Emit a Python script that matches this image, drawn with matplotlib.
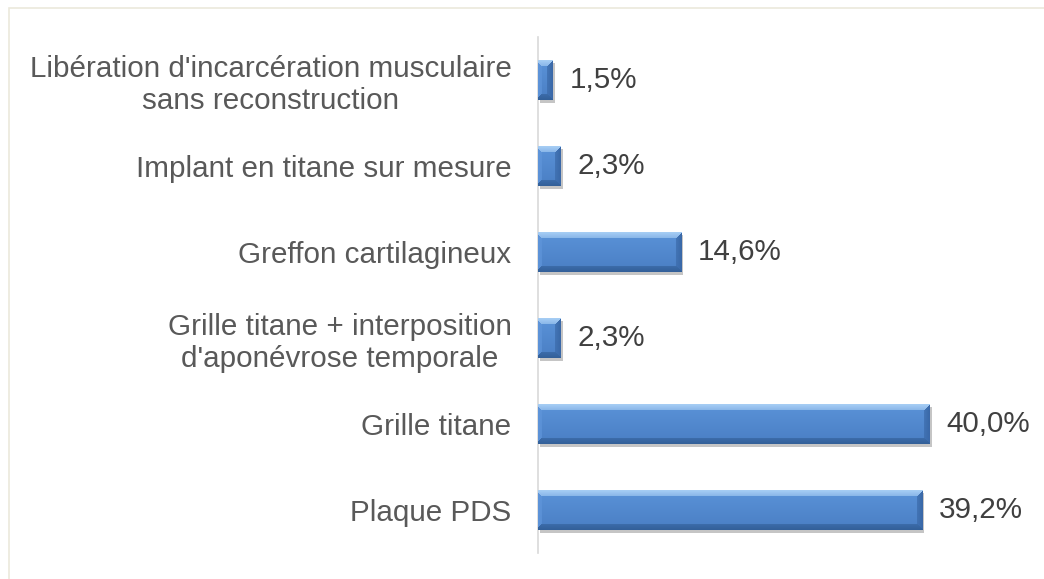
import numpy as np
import matplotlib
matplotlib.use("Agg")
import matplotlib.pyplot as plt
import matplotlib.patheffects as pe
from matplotlib.patches import Rectangle
from matplotlib.colors import to_rgb

categories = [
    "Libération d'incarcération musculaire\nsans reconstruction",
    "Implant en titane sur mesure",
    "Greffon cartilagineux",
    "Grille titane + interposition\nd'aponévrose temporale",
    "Grille titane",
    "Plaque PDS",
]
values = [1.5, 2.3, 14.6, 2.3, 40.0, 39.2]

W, H = 1044, 579
XMAX = 45
BAR_H = 0.465
FS = 21.3


def bevel_image(w_px, h_px, b=6):
    # rough Excel-like bevel: light top, dark bottom/right
    top = np.array(to_rgb("#a6cdf4"))
    left = np.array(to_rgb("#5f95da"))
    right = np.array(to_rgb("#3a69a8"))
    bottom = np.array(to_rgb("#33609a"))
    c_top = np.array(to_rgb("#5a92d8"))
    c_bot = np.array(to_rgb("#4a7fc4"))
    w_px = max(int(round(w_px)), 2)
    h_px = max(int(round(h_px)), 2)
    img = np.zeros((h_px, w_px, 3))
    for i in range(h_px):
        t = i / (h_px - 1)
        img[i, :, :] = c_top * (1 - t) + c_bot * t
    for i in range(h_px):
        for j in range(w_px):
            d = {"t": i, "b": h_px - 1 - i, "l": j + 2, "r": w_px - 1 - j}
            k = min(d, key=d.get)
            if d[k] < b:
                f = d[k] / b
                col = {"t": top, "b": bottom, "l": left, "r": right}[k]
                img[i, j, :] = col * (1 - 0.4 * f) + img[i, j, :] * 0.4 * f
    return img


def main():
    plt.rcParams["font.family"] = ["Liberation Sans", "DejaVu Sans"]
    fig = plt.figure(figsize=(W / 100, H / 100), dpi=100)
    ax = fig.add_axes([538 / W, (H - 553) / H, 441 / W, 516 / H])

    y = np.arange(len(categories))
    bars = ax.barh(y, values, height=BAR_H, color="#4f81bd", zorder=2)
    for b in bars:
        b.set_path_effects([
            pe.SimplePatchShadow(offset=(1.5, -2.5), shadow_rgbFace="#7f7f7f", alpha=0.45),
            pe.Normal(),
        ])

    sx = 441 / XMAX
    sy = 516 / len(categories)
    for yi, v, b in zip(y, values, bars):
        img = bevel_image(v * sx, BAR_H * sy)
        im = ax.imshow(img, extent=(0, v, yi + BAR_H / 2, yi - BAR_H / 2),
                       origin="upper", aspect="auto", interpolation="bilinear", zorder=3)
        im.set_clip_path(b)
        ax.annotate(f"{v:.1f}%".replace(".", ","), xy=(v, yi), xytext=(12, 0),
                    textcoords="offset points", va="center", ha="left",
                    fontsize=FS, color="#404040")

    ax.set_xlim(0, XMAX)
    ax.set_ylim(len(categories) - 0.5, -0.5)

    ax.set_yticks(y, categories)
    ax.tick_params(axis="y", length=0, pad=19, labelsize=FS, labelcolor="#595959")
    for lbl in ax.get_yticklabels():
        lbl.set_multialignment("center")
        lbl.set_linespacing(1.2)
    ax.set_xticks([])
    for s in ["top", "right", "bottom"]:
        ax.spines[s].set_visible(False)
    ax.spines["left"].set_color("#d9d9d9")
    ax.spines["left"].set_linewidth(1.2)

    fig.add_artist(Rectangle((8.5 / W, -0.05), 1.2, 1.05 - 7.5 / H,
                             transform=fig.transFigure, fill=False,
                             edgecolor="#ebe9dc", linewidth=1.2))

    fig.savefig("out.png", dpi=100)
    plt.close(fig)


if __name__ == "__main__":
    main()
